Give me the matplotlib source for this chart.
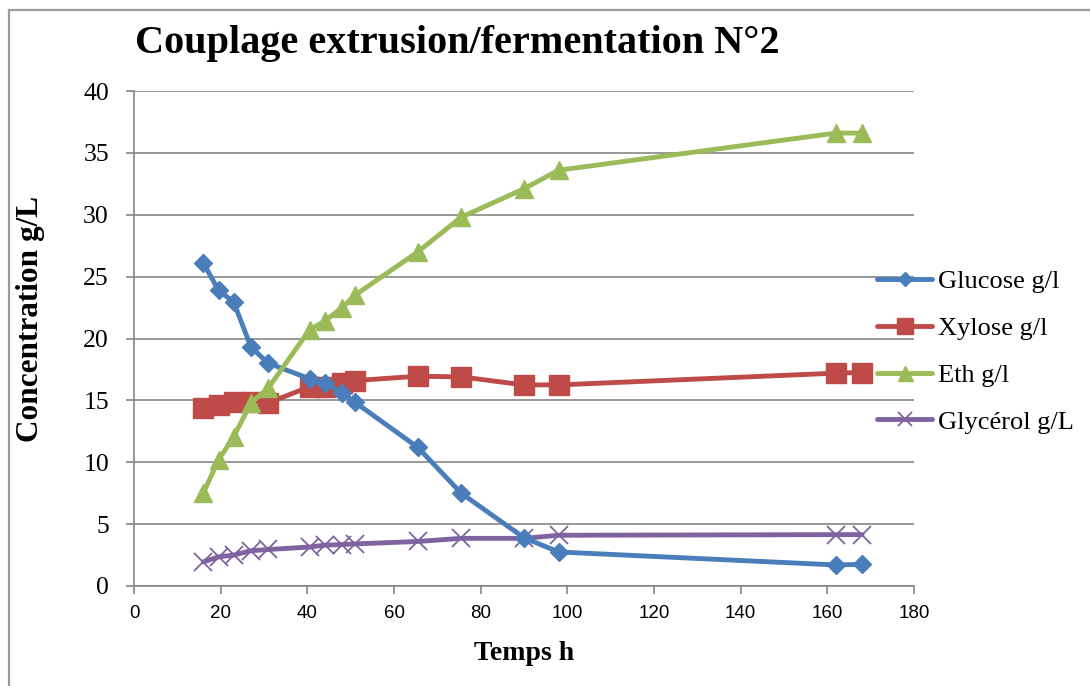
import matplotlib.pyplot as plt
from matplotlib.lines import Line2D

# --------- DONNEES ----------
temps = [16, 19.5, 23, 27, 31, 40.5, 44, 48, 51, 65.5, 75.5, 90, 98, 162, 168]
glucose = [26.1, 23.9, 22.95, 19.3, 18.0, 16.75, 16.4, 15.6, 14.85, 11.2, 7.5, 3.9, 2.75, 1.7, 1.75]
xylose = [14.35, 14.6, 14.9, 14.9, 14.8, 16.1, 16.1, 16.4, 16.6, 16.95, 16.9, 16.25, 16.25, 17.2, 17.25]
ethanol = [7.5, 10.2, 12.05, 14.8, 16.0, 20.7, 21.4, 22.5, 23.5, 27.0, 29.8, 32.1, 33.6, 36.6, 36.6]
glycerol = [1.95, 2.35, 2.5, 2.85, 2.95, 3.15, 3.3, 3.35, 3.4, 3.6, 3.85, 3.85, 4.1, 4.15, 4.15]

labels = ["Glucose g/l", "Xylose g/l", "Eth g/l", "Glycérol g/L"]
x_ticks = [0, 20, 40, 60, 80, 100, 120, 140, 160, 180]
y_ticks = [0, 5, 10, 15, 20, 25, 30, 35, 40]

GRIS = "#868686"
SERIF = "Liberation Serif"

fig = plt.figure(figsize=(10.9, 6.86), dpi=100)
fig.patch.set_facecolor("white")
ax = fig.add_axes([134 / 1090, 100 / 686, 780 / 1090, 495 / 686])

# cadre gris autour du graphique
fig.add_artist(Line2D([9 / 1090, 9 / 1090], [0, 1 - 10 / 686], transform=fig.transFigure,
                      color="#9a9a9a", lw=1.6))
fig.add_artist(Line2D([9 / 1090, 1], [1 - 10 / 686, 1 - 10 / 686], transform=fig.transFigure,
                      color="#9a9a9a", lw=1.6))

# 1) courbes
ax.plot(temps, glucose, color="#4A7EBB", lw=3.5, marker="D", ms=9, label=labels[0],
        solid_capstyle="round", zorder=4)
ax.plot(temps, xylose, color="#BE4B48", lw=3.5, marker="s", ms=14, label=labels[1],
        solid_capstyle="round", zorder=3)
ax.plot(temps, ethanol, color="#9BBB59", lw=3.5, marker="^", ms=13.5, label=labels[2],
        solid_capstyle="round", zorder=5)
ax.plot(temps, glycerol, color="#7F63A1", lw=3.5, marker="x", ms=13, mew=1.3, label=labels[3],
        solid_capstyle="round", zorder=2)

# 2) axes
ax.set_xlim(0, 180)
ax.set_ylim(0, 40)
ax.set_xticks(x_ticks)
ax.set_yticks(y_ticks)
ax.yaxis.grid(True, color=GRIS, lw=1.2)
ax.set_axisbelow(True)
for s in ["top", "right"]:
    ax.spines[s].set_visible(False)
for s in ["left", "bottom"]:
    ax.spines[s].set_color(GRIS)
    ax.spines[s].set_linewidth(1.2)
ax.tick_params(axis="both", color=GRIS, width=1.2, length=6)
ax.tick_params(axis="x", labelsize=13.5, pad=8)
ax.tick_params(axis="y", labelsize=18.5, pad=12)
for t in ax.get_xticklabels():
    t.set_fontfamily("Liberation Sans")
for t in ax.get_yticklabels():
    t.set_fontfamily(SERIF)

ax.set_xlabel("Temps h", fontfamily=SERIF, fontweight="bold", fontsize=20, labelpad=13)
ax.set_ylabel("Concentration g/L", fontfamily=SERIF, fontweight="bold", fontsize=22.5)
ax.yaxis.set_label_coords(-0.114, 0.54)

fig.text(135 / 1090, 1 - 43 / 686, "Couplage extrusion/fermentation N°2", fontfamily=SERIF,
         fontweight="bold", fontsize=29, ha="left", va="center")

# 3) legende
fig.legend(loc="upper left", bbox_to_anchor=(877 / 1090, 1 - 270 / 686), frameon=False,
           prop={"family": SERIF, "size": 19}, handlelength=2.1, handletextpad=0.2,
           labelspacing=0.88, borderpad=0, borderaxespad=0, markerscale=0.8)

plt.savefig("out.png", dpi=100, facecolor=fig.get_facecolor())
